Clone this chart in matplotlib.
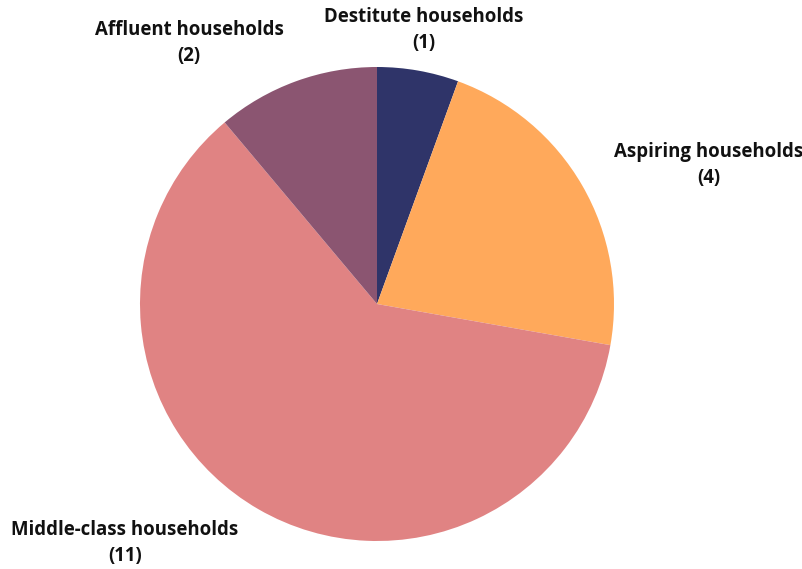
import matplotlib.pyplot as plt

W, H = 803, 569

categories = ["Destitute households", "Aspiring households",
              "Middle-class households", "Affluent households"]
values = [1, 4, 11, 2]
colors = ["#2f3469", "#ffa95b", "#e08383", "#8b5571"]

plt.rcParams["font.family"] = ["Open Sans", "DejaVu Sans"]

fig = plt.figure(figsize=(W / 100, H / 100), dpi=100)
# pie centre ~ (377, 304) px, radius ~ 237 px
cx, cy, r = 377, 304, 237
ax = fig.add_axes([(cx - r) / W, (H - cy - r) / H, 2 * r / W, 2 * r / H])
ax.pie(values, colors=colors, startangle=90, counterclock=False,
       radius=1, wedgeprops={"linewidth": 0})
ax.set_xlim(-1, 1)
ax.set_ylim(-1, 1)
ax.set_aspect("equal")
ax.axis("off")

# label anchor points in pixels (centre of the two-line block)
label_pos = [(424, 30), (709, 165), (125, 543), (189, 43)]
for name, v, (px, py) in zip(categories, values, label_pos):
    fig.text(px / W, 1 - py / H, f"{name}\n({v})", ha="center", va="center",
             fontsize=13.4, fontweight="bold", color="#111111",
             linespacing=1.45)

fig.savefig("out.png", dpi=100)
